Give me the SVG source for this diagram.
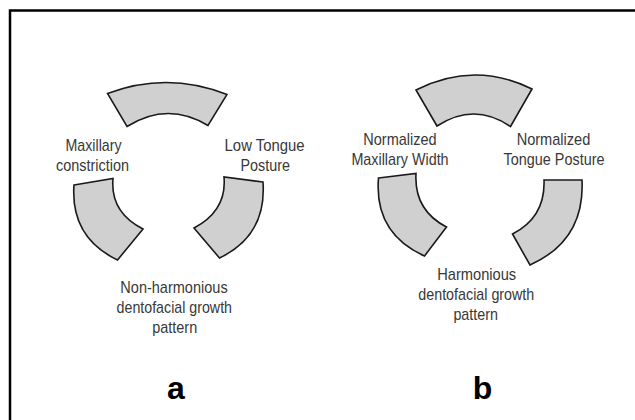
<svg xmlns="http://www.w3.org/2000/svg" width="635" height="420" viewBox="0 0 635 420">
<style>
.seg{fill:#d0d0d0;stroke:#1a1a1a;stroke-width:1.6;stroke-linejoin:miter}
.lbl{font-family:"Liberation Sans Narrow","Liberation Sans",Arial,sans-serif;font-size:17px;fill:#383838;text-anchor:middle}
.tag{font-family:"Liberation Sans",Arial,sans-serif;font-size:32px;font-weight:bold;fill:#000;text-anchor:middle}
</style>
<rect x="0" y="0" width="635" height="420" fill="#fff"/>
<rect x="10" y="10.5" width="640" height="420" fill="#fff" stroke="#000" stroke-width="2.5"/>
<g id="connectors"/>
<g id="a-top"><path class="seg" d="M107.5,93.5 Q167.5,71 227,94.5 L208,125.5 Q167.5,101 127,126.5 Z"/></g>
<g id="a-left"><path class="seg" d="M74,185 L113,178.5 Q110,212.25 143,229 L117.5,260 Q70.25,237.5 74,185 Z"/></g>
<g id="a-right"><path class="seg" d="M263,182 L224,177 Q227,210.5 194,228 L219.5,258 Q266.75,235.5 263,182 Z"/></g>
<g id="b-top"><path class="seg" d="M416,90 Q474,60.5 532,89 L510.5,126.5 Q474.25,101.75 437,126 Z"/></g>
<g id="b-left"><path class="seg" d="M378.5,178 L416,173.5 Q413.9,210.2 446.5,227 L424.5,256 Q373.9,233.2 378.5,178 Z"/></g>
<g id="b-right"><path class="seg" d="M582,180 L544,180 Q545.5,217 512.5,234 L530,265 Q585,240.3 582,180 Z"/></g>
<g id="a-label-left">
<text class="lbl" x="93.5" y="151" textLength="56" lengthAdjust="spacingAndGlyphs">Maxillary</text>
<text class="lbl" x="92.5" y="170.5" textLength="73" lengthAdjust="spacingAndGlyphs">constriction</text>
</g>
<g id="a-label-right">
<text class="lbl" x="264.6" y="150.5" textLength="80" lengthAdjust="spacingAndGlyphs">Low Tongue</text>
<text class="lbl" x="265.2" y="170.5" textLength="49.4" lengthAdjust="spacingAndGlyphs">Posture</text>
</g>
<g id="a-label-bottom">
<text class="lbl" x="174" y="292.5" textLength="107.3" lengthAdjust="spacingAndGlyphs">Non-harmonious</text>
<text class="lbl" x="174.3" y="312.5" textLength="115.4" lengthAdjust="spacingAndGlyphs">dentofacial growth</text>
<text class="lbl" x="174.7" y="332.5" textLength="45" lengthAdjust="spacingAndGlyphs">pattern</text>
</g>
<g id="b-label-left">
<text class="lbl" x="400" y="145" textLength="73.3" lengthAdjust="spacingAndGlyphs">Normalized</text>
<text class="lbl" x="400" y="165" textLength="97.2" lengthAdjust="spacingAndGlyphs">Maxillary Width</text>
</g>
<g id="b-label-right">
<text class="lbl" x="553.5" y="145" textLength="73.7" lengthAdjust="spacingAndGlyphs">Normalized</text>
<text class="lbl" x="554" y="165" textLength="101" lengthAdjust="spacingAndGlyphs">Tongue Posture</text>
</g>
<g id="b-label-bottom">
<text class="lbl" x="476.7" y="280" textLength="79" lengthAdjust="spacingAndGlyphs">Harmonious</text>
<text class="lbl" x="476.3" y="300" textLength="116" lengthAdjust="spacingAndGlyphs">dentofacial growth</text>
<text class="lbl" x="475.7" y="319.5" textLength="44.6" lengthAdjust="spacingAndGlyphs">pattern</text>
</g>
<g id="tag-a"><text class="tag" x="175.8" y="399">a</text></g>
<g id="tag-b"><text class="tag" x="482.5" y="399">b</text></g>
</svg>
